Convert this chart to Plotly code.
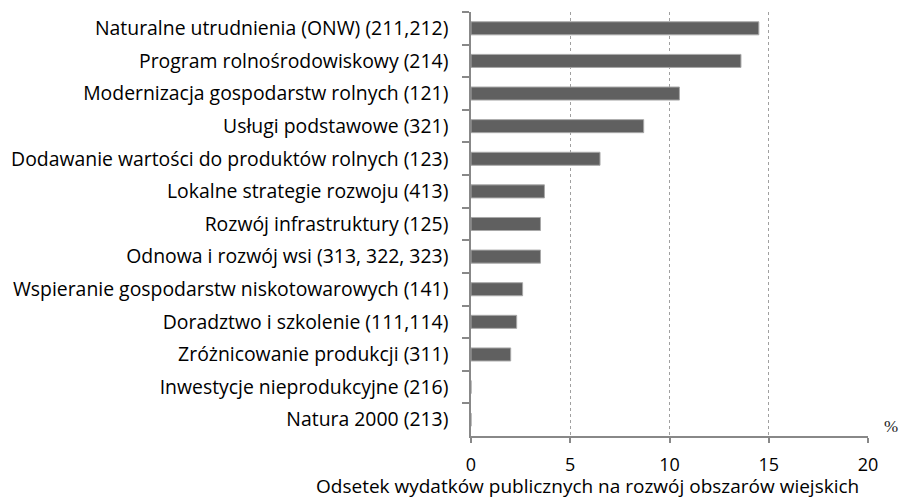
import plotly.graph_objects as go

categories = [
    "Naturalne utrudnienia (ONW) (211,212)",
    "Program rolnośrodowiskowy (214)",
    "Modernizacja gospodarstw rolnych (121)",
    "Usługi podstawowe (321)",
    "Dodawanie wartości do produktów rolnych (123)",
    "Lokalne strategie rozwoju (413)",
    "Rozwój infrastruktury (125)",
    "Odnowa i rozwój wsi (313, 322, 323)",
    "Wspieranie gospodarstw niskotowarowych (141)",
    "Doradztwo i szkolenie (111,114)",
    "Zróżnicowanie produkcji (311)",
    "Inwestycje nieprodukcyjne (216)",
    "Natura 2000 (213)",
]
values = [14.5, 13.6, 10.5, 8.7, 6.5, 3.7, 3.5, 3.5, 2.6, 2.3, 2.0, 0, 0]
x_ticks = [0, 5, 10, 15, 20]
x_title = "Odsetek wydatków publicznych na rozwój obszarów wiejskich"
unit_label = "%"

font_family = "'Open Sans', 'Noto Sans', sans-serif"

# page has an 8px body margin, so the figure is shrunk to fit the 907x498 window
W, H = 899, 490
L, R, T, B = 463, 39, 4, 62
plot_w = W - L - R
plot_h = H - T - B

fig = go.Figure(go.Bar(
    x=values, y=categories, orientation="h",
    marker=dict(color="#606060", line=dict(color="#a8a8a8", width=1)),
    width=0.4,
))

fig.update_layout(
    width=W, height=H,
    margin=dict(l=L, r=R, t=T, b=B),
    paper_bgcolor="white", plot_bgcolor="white",
    showlegend=False,
    font=dict(family=font_family, size=19, color="#000000"),
)
fig.update_xaxes(
    range=[0, 20], tickvals=x_ticks, ticktext=[str(v) for v in x_ticks],
    showgrid=True, gridcolor="#a0a0a0", griddash="dot", gridwidth=1,
    showline=True, linecolor="#888888", linewidth=1.5,
    ticks="outside", ticklen=5, tickcolor="#888888", tickwidth=1.5,
    ticklabelstandoff=7,
    tickfont=dict(size=18),
    zeroline=False, automargin=False,
)
fig.update_yaxes(
    autorange="reversed", type="category",
    showgrid=False,
    showline=True, linecolor="#888888", linewidth=1.5,
    ticks="outside", ticklen=7, tickcolor="#888888", tickwidth=1.5,
    tickson="boundaries",
    ticklabelstandoff=17,
    tickfont=dict(size=19.4),
    automargin=False,
)
fig.add_annotation(
    text=x_title, xref="paper", yref="paper", x=(587 - 471) / plot_w, y=-50 / plot_h,
    xanchor="center", yanchor="middle", showarrow=False,
    font=dict(size=19, family=font_family),
)
fig.add_annotation(
    text=unit_label, xref="paper", yref="paper", x=1.0 + 23 / plot_w, y=10 / plot_h,
    xanchor="center", yanchor="middle", showarrow=False,
    font=dict(size=17, family="'Liberation Serif', serif", color="#222222"),
)

fig.write_html("out.html")
